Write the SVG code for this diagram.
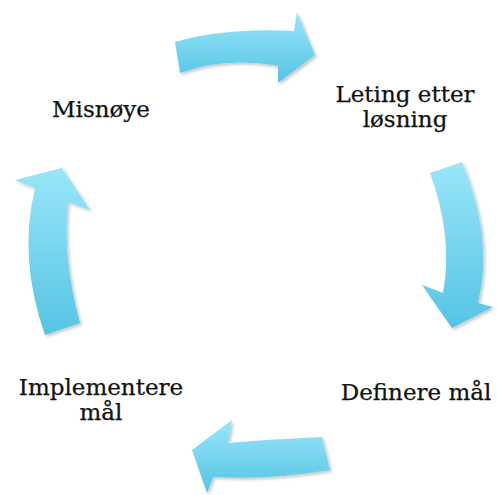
<svg xmlns="http://www.w3.org/2000/svg" width="497" height="495" viewBox="0 0 497 495">
  <defs>
    <linearGradient id="arrowFill" x1="0" y1="0" x2="0" y2="1">
      <stop offset="0" stop-color="#99e6f8"/>
      <stop offset="1" stop-color="#55c4e4"/>
    </linearGradient>
    <filter id="softShadow" x="-20%" y="-20%" width="140%" height="140%">
      <feDropShadow dx="2" dy="2" stdDeviation="1.5" flood-color="#000" flood-opacity="0.22"/>
    </filter>
    <style>
      .arrow { fill: url(#arrowFill); filter: url(#softShadow); }
      .label { font-family: "DejaVu Serif", "Liberation Serif", serif; font-size: 23px; fill: #111111; stroke: #111111; stroke-width: 0.25px; text-anchor: middle; }
    </style>
  </defs>
  <rect width="497" height="495" fill="#ffffff"/>

  <!-- cycle arrows -->
  <g id="connectors">
    <path class="arrow" d="M175,42 Q225.5,27.5 294,31 L297,12 L315,55 L278,83 L278,66 Q225,56.5 180,73 Z"/>
    <path class="arrow" d="M430,173 L462,162 Q494,237.5 478,303 L493,307 L452,328 L422,285 L443,293 Q453.5,237 430,173 Z"/>
    <path class="arrow" d="M322,437 Q276,439 228,443 L232,420 L192,450 L207,493 L213,477 Q272.5,480 330,470 Z"/>
    <path class="arrow" d="M45,335 Q18,258.5 35,188 L15,180 L62,168 L90,210 L68,202 Q62,257.5 80,323 Z"/>
  </g>

  <!-- stage labels -->
  <g id="misnoye">
    <text class="label" x="101" y="117">Misnøye</text>
  </g>
  <g id="leting">
    <text class="label" x="405" y="102">Leting etter</text>
    <text class="label" x="405" y="127">løsning</text>
  </g>
  <g id="definere">
    <text class="label" x="416" y="400">Definere mål</text>
  </g>
  <g id="implementere">
    <text class="label" x="101" y="395">Implementere</text>
    <text class="label" x="101" y="420">mål</text>
  </g>
</svg>
